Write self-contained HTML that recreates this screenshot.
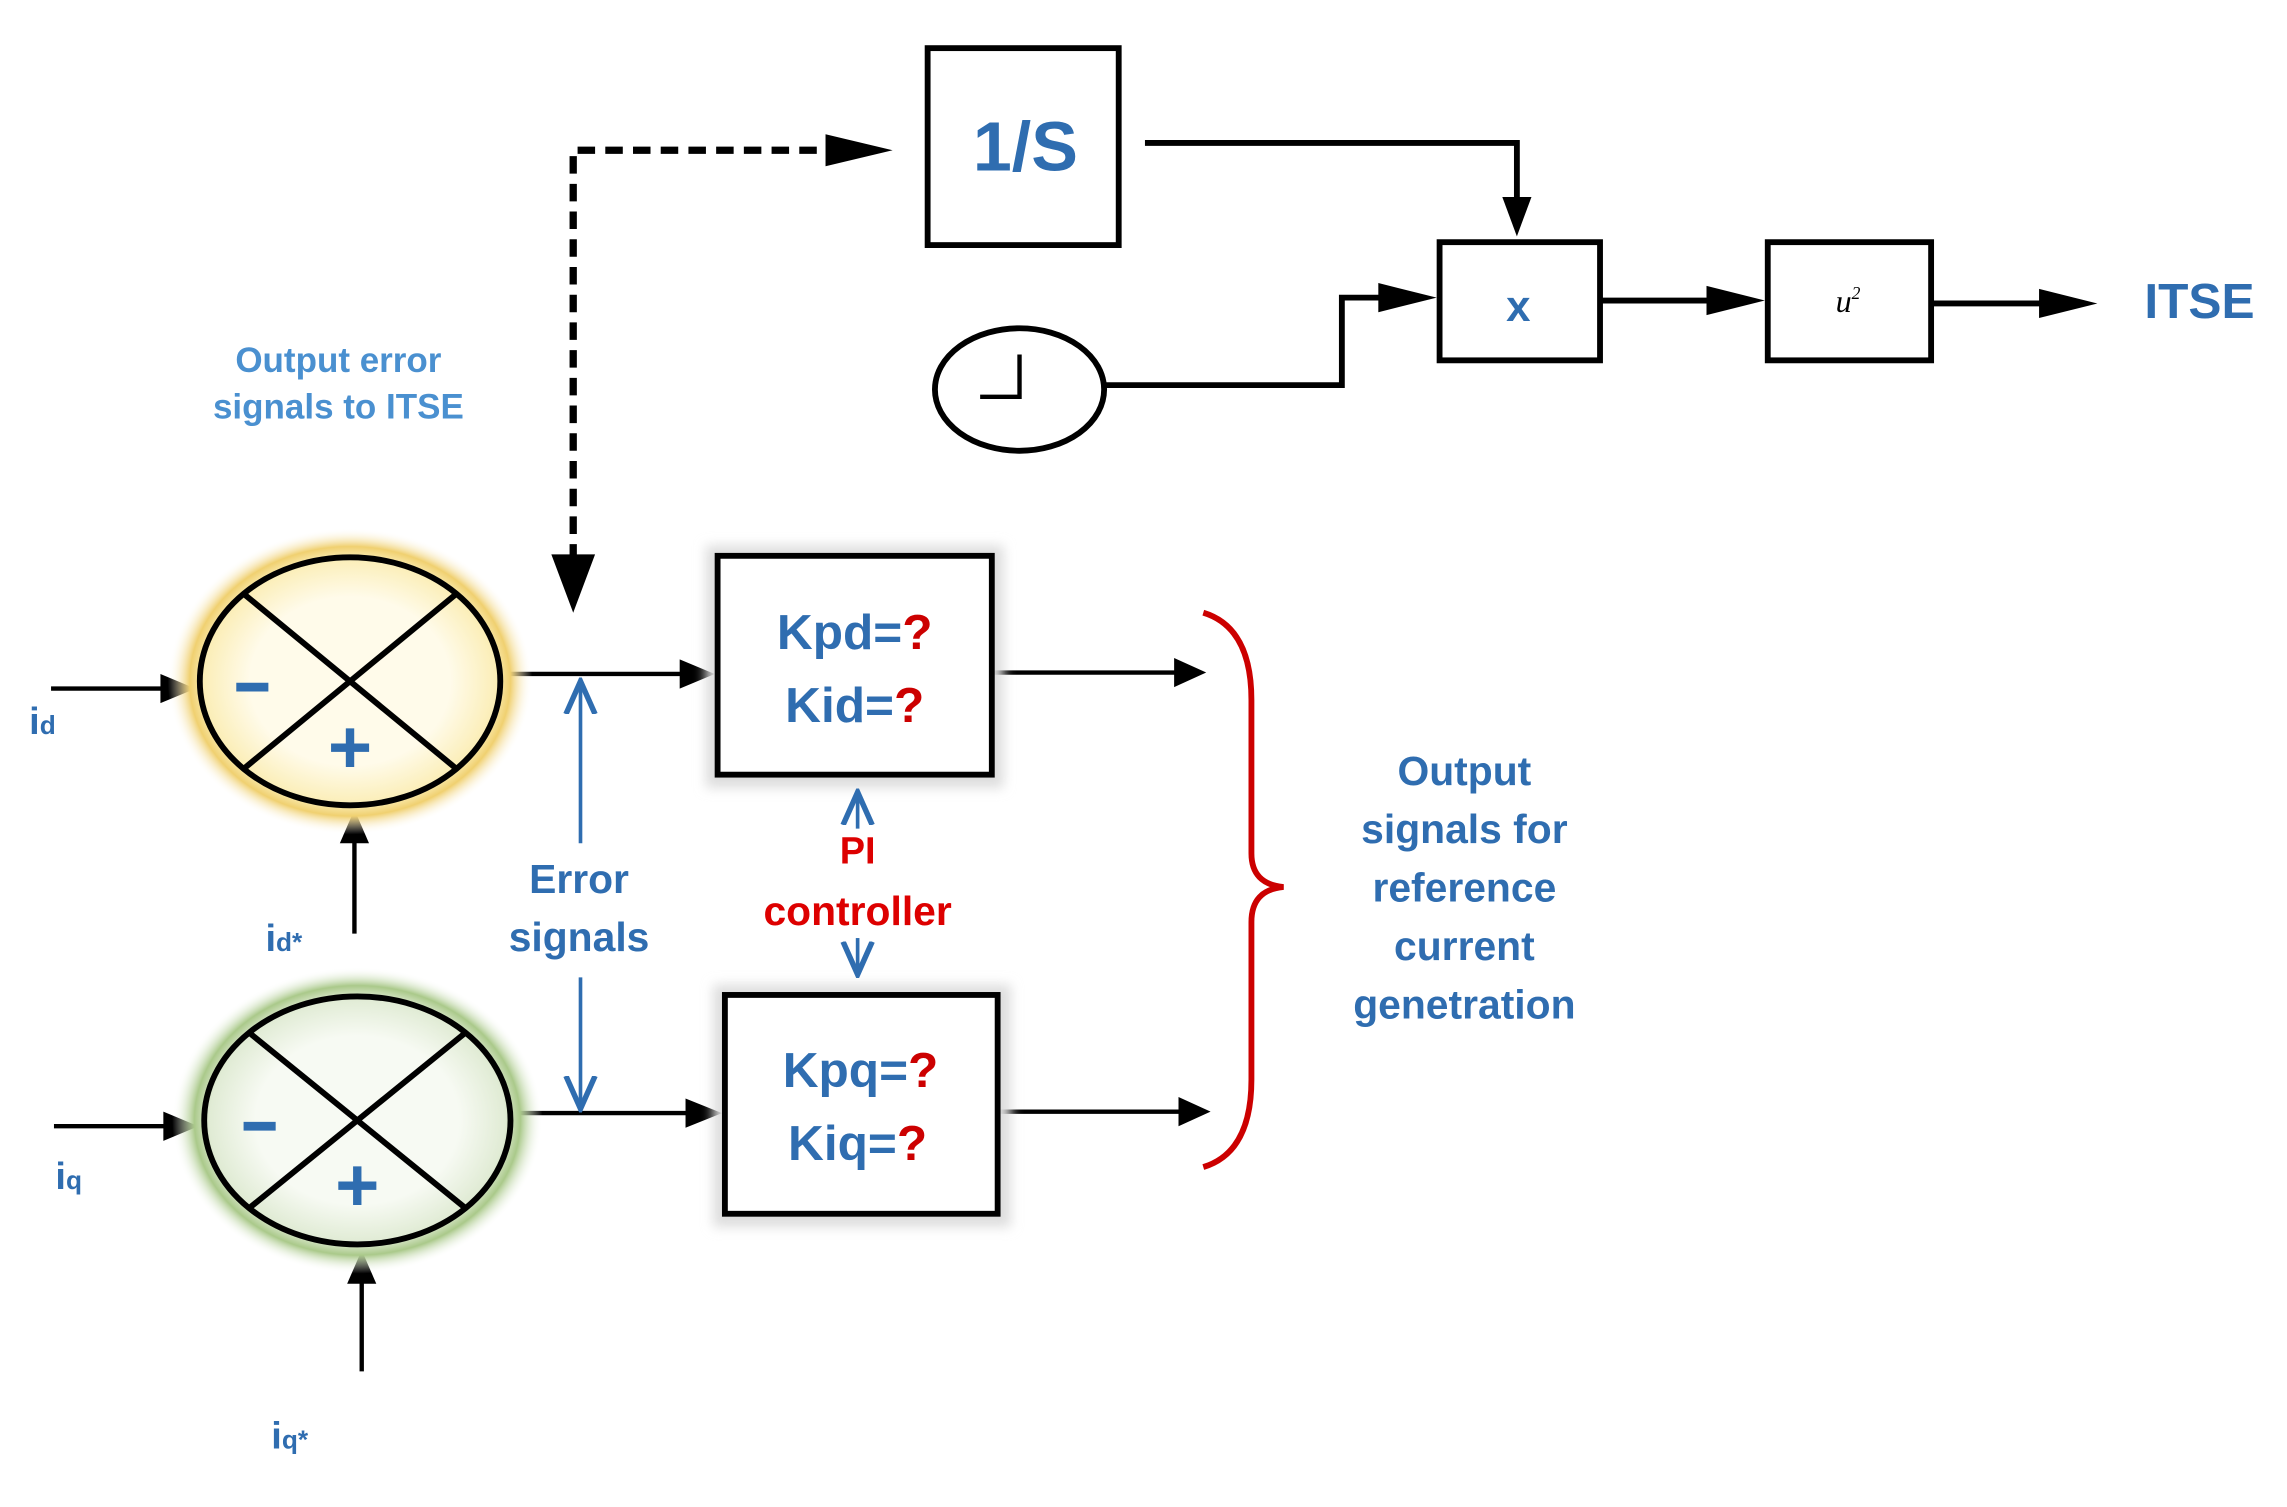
<!DOCTYPE html>
<html><head><meta charset="utf-8"><style>html,body{margin:0;padding:0;background:#fff}svg{display:block}</style></head>
<body>
<svg width="2287" height="1507" viewBox="0 0 1568 1033" preserveAspectRatio="none" xmlns="http://www.w3.org/2000/svg" font-family="Liberation Sans, sans-serif">
<defs>
<marker id="ab" viewBox="0 0 10 10" refX="9" refY="5" markerWidth="10" markerHeight="10" orient="auto-start-reverse"><path d="M0,1 L9,5 L0,9" fill="none" stroke="#2f6db0" stroke-width="1.5"/></marker>
<radialGradient id="gy"><stop offset="0.55" stop-color="#fffbea"/><stop offset="0.8" stop-color="#fbeeb8"/><stop offset="0.88" stop-color="#f0d070"/><stop offset="1" stop-color="#fff" stop-opacity="0"/></radialGradient>
<radialGradient id="gg"><stop offset="0.55" stop-color="#f7faf3"/><stop offset="0.8" stop-color="#e0ebd4"/><stop offset="0.88" stop-color="#aac98a"/><stop offset="1" stop-color="#fff" stop-opacity="0"/></radialGradient>
<filter id="sh"><feGaussianBlur stdDeviation="4"/></filter>
</defs>
<g stroke="#000" stroke-width="4" fill="none">
<rect x="636" y="33" width="131" height="135" fill="#fff"/>
<rect x="987" y="166" width="110" height="81"/>
<rect x="1212" y="166" width="112" height="81"/>
<ellipse cx="699" cy="267" rx="58" ry="42"/>
<path d="M699,243 V272 H672" stroke-width="3"/>
<path d="M785,98 H1040 V140"/>
<path d="M758,264 H920 V204 H960"/>
<path d="M1097,206 H1180"/>
<path d="M1324,208 H1410"/>
<path d="M393,385 V103 H580" stroke-dasharray="12,7" stroke-width="5"/>
</g>
<g fill="#000">
<path d="M1030,135 L1050,135 L1040,162z"/>
<path d="M945,194 L985,204 L945,214z"/>
<path d="M1170,196 L1210,206 L1170,216z"/>
<path d="M1398,198 L1438,208 L1398,218z"/>
<path d="M566,92 L612,103 L566,114z"/>
<path d="M378,380 L408,380 L393,420z"/>
<path d="M805,451 L827,461 L805,471z"/>
<path d="M808,752 L830,762 L808,772z"/>
<path d="M466,452 L490,462 L466,472z"/>
<path d="M470,753 L495,763 L470,773z"/>
<path d="M110,462 L134,472 L110,482z"/>
<path d="M112,762 L136,772 L112,782z"/>
<path d="M233,578 L243,555 L253,578z"/>
<path d="M238,880 L248,857 L258,880z"/>
</g>
<g stroke="#000" stroke-width="3">
<line x1="35" y1="472" x2="115" y2="472"/><line x1="37" y1="772" x2="117" y2="772"/>
<line x1="243" y1="640" x2="243" y2="575"/><line x1="248" y1="940" x2="248" y2="877"/>
<line x1="345" y1="462" x2="470" y2="462"/><line x1="350" y1="763" x2="475" y2="763"/>
<line x1="680" y1="461" x2="808" y2="461"/><line x1="684" y1="762" x2="810" y2="762"/>
</g>
<ellipse cx="240" cy="467" rx="125" ry="105" fill="url(#gy)"/>
<ellipse cx="245" cy="768" rx="127" ry="105" fill="url(#gg)"/>
<g stroke="#000" stroke-width="4" fill="none">
<ellipse cx="240" cy="467" rx="103" ry="85"/>
<line x1="167" y1="407" x2="313" y2="527"/><line x1="313" y1="407" x2="167" y2="527"/>
<ellipse cx="245" cy="768" rx="105" ry="85"/>
<line x1="171" y1="708" x2="319" y2="828"/><line x1="319" y1="708" x2="171" y2="828"/>
</g>
<rect x="484" y="374" width="204" height="166" fill="#ddd" filter="url(#sh)"/>
<rect x="489" y="675" width="204" height="166" fill="#ddd" filter="url(#sh)"/>
<rect x="492" y="381" width="188" height="150" fill="#fff" stroke="#000" stroke-width="4"/>
<rect x="497" y="682" width="187" height="150" fill="#fff" stroke="#000" stroke-width="4"/>
<g fill="#2f6db0">
<rect x="162" y="468" width="22" height="6"/><rect x="167" y="769" width="22" height="6"/>
</g>
<g fill="#2f6db0" font-weight="bold" text-anchor="middle">
<text x="240" y="530" font-size="52">+</text>
<text x="245" y="830" font-size="52">+</text>
<text x="703" y="117" font-size="48">1/S</text>
<text x="1041" y="220" font-size="30">x</text>
<text x="1508" y="218" font-size="34">ITSE</text>
<text x="586" y="445" font-size="34">Kpd=<tspan fill="#c00">?</tspan></text>
<text x="586" y="495" font-size="34">Kid=<tspan fill="#c00">?</tspan></text>
<text x="590" y="745" font-size="34">Kpq=<tspan fill="#c00">?</tspan></text>
<text x="588" y="795" font-size="34">Kiq=<tspan fill="#c00">?</tspan></text>
<text x="397" y="612" font-size="28">Error</text><text x="397" y="652" font-size="28">signals</text>
<g font-size="28"><text x="1004" y="538">Output</text><text x="1004" y="578">signals for</text><text x="1004" y="618">reference</text><text x="1004" y="658">current</text><text x="1004" y="698">genetration</text></g>
<g font-size="24" fill="#4a90d0"><text x="232" y="255">Output error</text><text x="232" y="287">signals to ITSE</text></g>
<g font-size="26" fill="#2f6db0" text-anchor="start"><text x="20" y="503">i<tspan font-size="18">d</tspan></text><text x="38" y="815">i<tspan font-size="18">q</tspan></text><text x="182" y="652">i<tspan font-size="18">d*</tspan></text><text x="186" y="993">i<tspan font-size="18">q*</tspan></text></g>
</g>
<text x="1267" y="214" font-family="Liberation Serif, serif" font-style="italic" font-size="22" text-anchor="middle">u<tspan font-size="12" dy="-9">2</tspan></text>
<g fill="#d00" font-weight="bold" text-anchor="middle"><text x="588" y="592" font-size="26">PI</text><text x="588" y="634" font-size="28">controller</text></g>
<g stroke="#2f6db0" stroke-width="2.5" fill="none">
<line x1="398" y1="578" x2="398" y2="467" marker-end="url(#ab)"/>
<line x1="398" y1="670" x2="398" y2="760" marker-end="url(#ab)"/>
<line x1="588" y1="568" x2="588" y2="543" marker-end="url(#ab)"/>
<line x1="588" y1="643" x2="588" y2="668" marker-end="url(#ab)"/>
</g>
<path d="M825,420 Q858,430 858,480 V585 Q858,606 880,608 Q858,610 858,632 V740 Q858,790 825,800" fill="none" stroke="#c00" stroke-width="4"/>
</svg>
</body></html>
